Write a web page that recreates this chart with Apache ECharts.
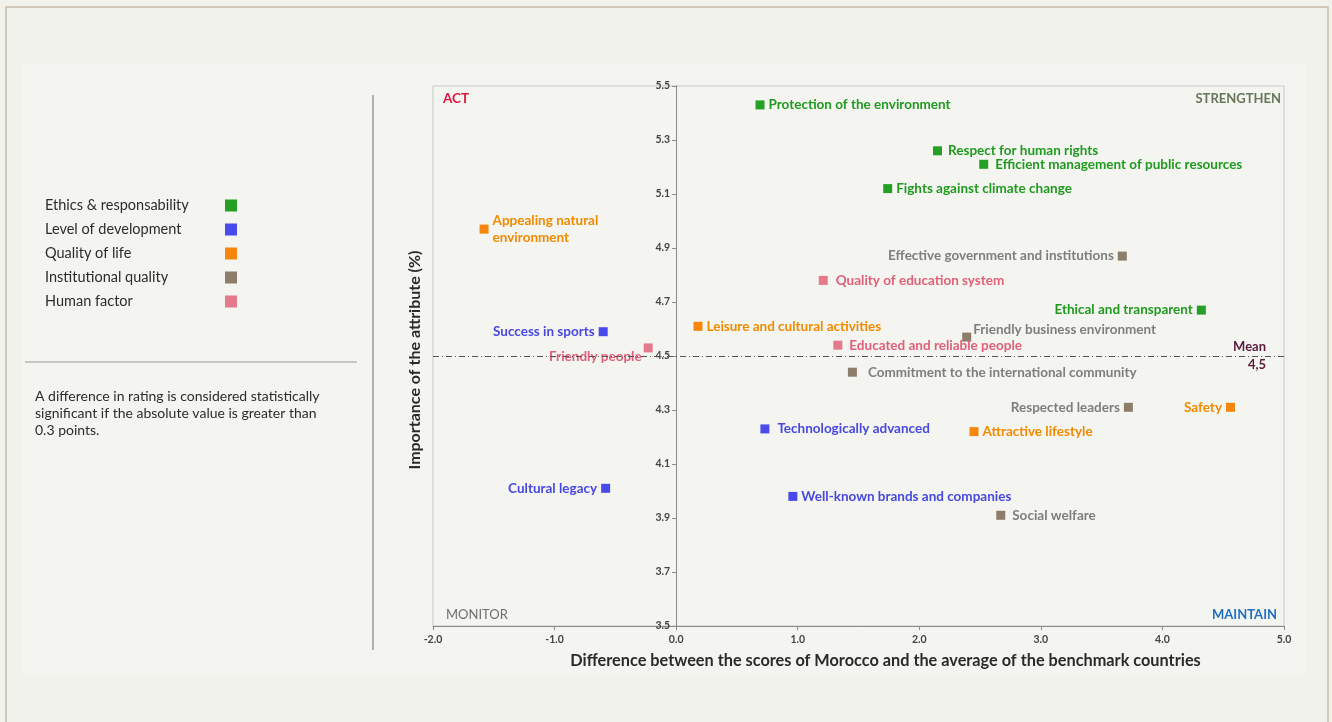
<!DOCTYPE html>
<html>
<head>
<meta charset="utf-8">
<script src="https://cdn.jsdelivr.net/npm/echarts@6/dist/echarts.min.js"></script>
<style>
  html, body { margin: 0; padding: 0; background: #f3f3ee; }
  #chart { width: 1332px; height: 722px; }
</style>
</head>
<body>
<div id="chart"></div>
<script>
// Attribute categories
const categories = ['Ethics & responsability', 'Level of development', 'Quality of life', 'Institutional quality', 'Human factor'];

// Each attribute: [difference vs benchmark, importance, name]
const ethicsData = [
  [0.69, 5.43, 'Protection of the environment'],
  [2.15, 5.26, 'Respect for human rights'],
  [2.53, 5.21, 'Efficient management of public resources'],
  [1.74, 5.12, 'Fights against climate change'],
  [4.32, 4.67, 'Ethical and transparent']
];
const developmentData = [
  [-0.60, 4.59, 'Success in sports'],
  [0.73, 4.23, 'Technologically advanced'],
  [-0.58, 4.01, 'Cultural legacy'],
  [0.96, 3.98, 'Well-known brands and companies']
];
const qualityData = [
  [-1.58, 4.97, 'Appealing natural\nenvironment'],
  [0.18, 4.61, 'Leisure and cultural activities'],
  [2.45, 4.22, 'Attractive lifestyle'],
  [4.56, 4.31, 'Safety']
];
const institutionalData = [
  [3.67, 4.87, 'Effective government and institutions'],
  [2.39, 4.57, 'Friendly business environment'],
  [1.45, 4.44, 'Commitment to the international community'],
  [3.72, 4.31, 'Respected leaders'],
  [2.67, 3.91, 'Social welfare']
];
const humanData = [
  [1.21, 4.78, 'Quality of education system'],
  [-0.23, 4.53, 'Friendly people'],
  [1.33, 4.54, 'Educated and reliable people']
];
const meanImportance = 4.5;

// Axis ranges
const xMin = -2, xMax = 5, xStep = 1;
const yMin = 3.5, yMax = 5.5, yStep = 0.2;

// Label placement per attribute (side, extra offset)
const labelPlacement = {
  'Ethical and transparent': { side: 'left' },
  'Success in sports': { side: 'left' },
  'Cultural legacy': { side: 'left' },
  'Safety': { side: 'left' },
  'Effective government and institutions': { side: 'left' },
  'Respected leaders': { side: 'left' },
  'Friendly people': { side: 'left', offset: [2, 9] },
  'Friendly business environment': { side: 'right', offset: [-2, -7] },
  'Technologically advanced': { side: 'right', distance: 8 },
  'Commitment to the international community': { side: 'right', distance: 11 },
  'Quality of education system': { side: 'right', distance: 8 },
  'Respect for human rights': { side: 'right', distance: 6 },
  'Efficient management of public resources': { side: 'right', distance: 7 },
  'Educated and reliable people': { side: 'right', distance: 7 },
  'Social welfare': { side: 'right', distance: 7 }
};

const markerColors = ['#25a025', '#4a4aec', '#f7860d', '#8d7d6b', '#e57a8c'];
const textColors = ['#1f9a1f', '#4848e0', '#f28a00', '#7e7e7e', '#e06078'];
const seriesData = [ethicsData, developmentData, qualityData, institutionalData, humanData];

const FONT = 'Lato, "Open Sans", sans-serif';
const GRID = { left: 433, top: 86, right: 48, bottom: 96 };

function buildPoints(rows) {
  return rows.map(r => {
    const p = labelPlacement[r[2]] || { side: 'right' };
    const lbl = {
      position: p.side,
      distance: p.distance != null ? p.distance : 4
    };
    if (p.offset) lbl.offset = p.offset;
    return { value: [r[0], r[1]], name: r[2], label: lbl };
  });
}

const series = categories.map((cat, i) => ({
  name: cat,
  type: 'scatter',
  symbol: 'rect',
  symbolSize: 9,
  itemStyle: { color: markerColors[i], opacity: 1 },
  label: {
    show: true,
    formatter: '{b}',
    color: textColors[i],
    fontFamily: FONT,
    fontSize: 13.5,
    fontWeight: 'bold',
    lineHeight: 17
  },
  data: buildPoints(seriesData[i])
}));

// Mean importance reference line
series.push({
  name: 'mean',
  type: 'scatter',
  data: [],
  silent: true,
  markLine: {
    symbol: 'none',
    silent: true,
    lineStyle: { color: '#555', width: 1, type: [6, 3, 1, 3] },
    label: {
      show: true,
      position: 'insideEnd',
      formatter: 'Mean\n' + String(meanImportance).replace('.', ','),
      color: '#5b1a3c',
      fontFamily: FONT,
      fontSize: 13,
      fontWeight: 'bold',
      lineHeight: 18,
      align: 'right',
      distance: 18
    },
    data: [{ yAxis: meanImportance }]
  }
});

const chart = echarts.init(document.getElementById('chart'));
chart.setOption({
  backgroundColor: '#f2f2ed',
  animation: false,
  textStyle: { fontFamily: FONT },
  grid: Object.assign({
    show: true, borderColor: '#c9c9c4', borderWidth: 1, backgroundColor: 'transparent'
  }, GRID),
  legend: {
    data: categories,
    orient: 'vertical',
    left: 40,
    top: 193,
    align: 'right',
    itemWidth: 12,
    itemHeight: 12,
    itemGap: 9,
    icon: 'rect',
    formatter: name => '{t|' + name + '}',
    textStyle: {
      rich: { t: { width: 175, align: 'left', color: '#2c2c2c', fontSize: 14.5, fontFamily: FONT, height: 14 } }
    },
    selectedMode: false
  },
  xAxis: {
    type: 'value',
    min: xMin, max: xMax, interval: xStep,
    name: 'Difference between the scores of Morocco and the average of the benchmark countries',
    nameLocation: 'middle',
    nameGap: 27,
    nameTextStyle: { color: '#2a2a2a', fontSize: 16.3, fontWeight: 'bold', fontFamily: FONT, padding: [0, 0, 0, 54] },
    axisLine: { onZero: false, lineStyle: { color: '#8a8a8a' } },
    axisTick: { show: true, length: 4, lineStyle: { color: '#8a8a8a' } },
    axisLabel: {
      color: '#444', fontSize: 10.5, fontWeight: 'bold', margin: 8,
      formatter: v => v.toFixed(1)
    },
    splitLine: { show: false }
  },
  yAxis: {
    type: 'value',
    min: yMin, max: yMax, interval: yStep,
    axisLine: { show: true, onZero: false, lineStyle: { color: '#8a8a8a' } },
    axisTick: { show: true, length: 4, lineStyle: { color: '#8a8a8a' } },
    axisLabel: {
      color: '#444', fontSize: 10.5, fontWeight: 'bold', margin: 6,
      formatter: v => v.toFixed(1)
    },
    splitLine: { show: false }
  },
  graphic: [
    { type: 'rect', silent: true, z: -10, shape: { x: 6, y: 7, width: 1322, height: 730 },
      style: { fill: '#f2f2ed', stroke: '#c5bca8', lineWidth: 1.5 } },
    { type: 'rect', silent: true, z: -9, shape: { x: 22, y: 64, width: 1284, height: 612 },
      style: { fill: '#f4f4f0' } },
    { type: 'line', silent: true, shape: { x1: 373, y1: 95, x2: 373, y2: 650 },
      style: { stroke: '#9a9a9a', lineWidth: 1.5 } },
    { type: 'line', silent: true, shape: { x1: 25, y1: 362, x2: 357, y2: 362 },
      style: { stroke: '#9a9a9a', lineWidth: 1 } },
    { type: 'text', left: 35, top: 388, silent: true,
      style: { text: 'A difference in rating is considered statistically\nsignificant if the absolute value is greater than\n0.3 points.',
        fill: '#2c2c2c', font: '14px ' + FONT, lineHeight: 17 } },
    { type: 'text', silent: true, x: 415, y: 360, rotation: Math.PI / 2,
      style: { text: 'Importance of the attribute (%)', fill: '#2a2a2a',
        font: 'bold 16px ' + FONT, align: 'center', verticalAlign: 'middle' } },
    { type: 'text', silent: true, x: 443, y: 99,
      style: { text: 'ACT', fill: '#e3163f', font: 'bold 13.5px ' + FONT, verticalAlign: 'middle' } },
    { type: 'text', silent: true, x: 1281, y: 99,
      style: { text: 'STRENGTHEN', fill: '#66775a', font: 'bold 13px ' + FONT, align: 'right', verticalAlign: 'middle' } },
    { type: 'text', silent: true, x: 446, y: 615,
      style: { text: 'MONITOR', fill: '#6f6f6f', font: '13px ' + FONT, verticalAlign: 'middle' } },
    { type: 'text', silent: true, x: 1277, y: 615,
      style: { text: 'MAINTAIN', fill: '#1f6fc2', font: 'bold 13px ' + FONT, align: 'right', verticalAlign: 'middle' } }
  ],
  series: series
});

// Move the vertical axis (line, ticks and labels) onto x = 0
const zeroPx = chart.convertToPixel({ xAxisIndex: 0 }, 0);
chart.setOption({ yAxis: { offset: -(zeroPx - GRID.left) } });
</script>
</body>
</html>
